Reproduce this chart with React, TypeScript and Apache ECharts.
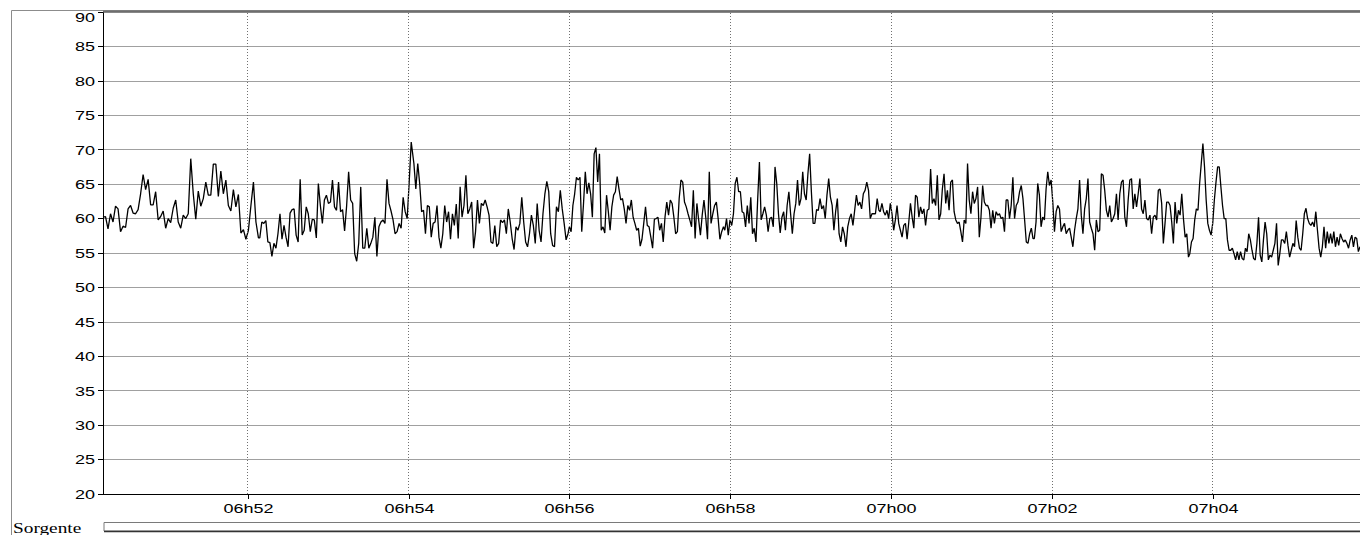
import React, { useEffect, useRef } from 'react';
import * as echarts from 'echarts';

// ---- data: noise level samples, one array per stretch of the recording ----
const SEG1 = [60.2, 60.3, 58.5, 60.7, 59.5, 61.8, 61.4, 58.1, 58.9, 58.7, 61.4, 61.9, 60.8, 60.7, 61.3, 63.6, 66.4, 64.2, 65.7, 62, 62, 63.9, 59.8, 60.3, 61.1, 58.6, 60, 59.4, 61.5, 62.7, 59.5, 58.6, 60.5, 60, 60.7, 68.7, 63.6, 59.9, 64, 61.8, 62.9, 65.3, 63.4, 63.4, 67.9, 67.9, 63.2, 66.9, 63.6, 65.6, 61.9, 61.1, 64.2, 61.7, 63.5, 57.9, 58.4, 57, 58.3, 61.9, 65.3, 59.5, 57.2];
const SEG2 = [57.2, 59.5, 59.3, 59.7, 56.6, 56.5, 54.5, 56.4, 55.7, 57.8, 60.7, 57, 59, 57.3, 55.9, 60.8, 61.3, 61.4, 57.6, 56.6, 65.7, 57.6, 58.3, 61.7, 60.7, 58.1, 59.9, 59.8, 57.2, 65.1, 61.9, 59.3, 62.7, 63.4, 62.2, 62.4, 65.6, 61.7, 61.2, 65.3, 61, 61.3, 58.2, 61.8, 66.8, 62.7, 62.2, 54.9, 53.8, 56.4, 64.6, 55.7, 55.7, 58.6, 55.7, 56.4, 57.3, 60.2, 54.5, 58.8, 59.5, 59.8, 59.3, 65.7, 62.2, 61.1, 59.8, 57.8, 58.1, 59.3, 58.6, 63.1, 61, 60, 65.3, 71.1];
const SEG3 = [68, 64.3, 68, 65.1, 61, 61.2, 57.8, 61.9, 61.7, 57.3, 59.3, 59.5, 61.9, 57.3, 55.7, 57.8, 61.9, 59.5, 61, 57, 60.7, 59, 62.1, 57.1, 64.6, 60.2, 61.9, 66.3, 60.7, 61.4, 62.4, 55.7, 58.1, 62.7, 59.3, 62.2, 61.9, 62.7, 61.7, 60.5, 56.6, 56.4, 59, 55.9, 56.4, 59.8, 59.4, 59.8, 57.8, 61.4, 59.5, 57.1, 55.5, 58.8, 58.3, 59.3, 63.1, 59.5, 56.6, 55.9, 57.8, 60.5, 59, 56.4, 62.2, 58.3, 56.6, 60.7, 63.6, 65.4, 63.9, 57.8, 56.1, 55.9, 61.7, 61, 64.1, 61.4, 59.3, 56.9, 57.8];
const SEG4 = [58.8, 58.1, 61.9, 63.6, 66, 65.6, 66, 58.1, 62.2, 66.8, 63.6, 65.2, 63.6, 60.2, 69.4, 70.3, 65.3, 69.4, 58.3, 58.8, 57.9, 63.4, 61, 58.3, 61.7, 63.4, 63.9, 66.1, 64.3, 62.7, 62.9, 61.4, 59.3, 61.9, 61.2, 62.7, 60.2, 59.3, 58.3, 58.6, 56, 57, 59.3, 61.7, 59, 58.8, 57.3, 55.7, 59.9, 60, 60.2, 58.3, 59.3, 56.6, 60.2, 62.4, 60.5, 62.7, 62.2, 60.2, 57.8, 58.1, 62.9, 65.6, 65.3, 62.4, 61.7, 60.7, 59.8, 58.8, 64.1, 57.1, 62.2, 59.8, 57.6, 60.5, 62.7, 60.2, 57, 66.8, 59.3, 60.7, 61.9, 62.4, 60, 57, 58.1, 58.8];
const SEG5 = [58.3, 60, 57.6, 59.8, 59, 60.7, 65.1, 66, 63.9, 63.9, 61, 60.8, 58.8, 61.9, 59.3, 63.1, 57.8, 58.6, 56.6, 62.9, 68.2, 59.8, 60.7, 61.7, 60.5, 58.1, 60, 60.2, 58.8, 67.5, 65.1, 60.7, 57.9, 60.2, 61, 58.3, 61.9, 63.9, 60.7, 57.8, 60.7, 62.2, 65.6, 61.9, 62.9, 66.8, 63.6, 62.7, 66.5, 69.4, 63.9, 59.3, 59.3, 61.3, 61.2, 62.9, 61.4, 61.9, 60, 63.4, 65.8, 63.1, 61.9, 58.3, 61, 62.9, 57.8, 56.6, 58.8, 57.8, 55.9, 58.8, 60, 60.7, 59, 61.2, 63.4, 61.9, 62.4, 61.4, 63.6, 64.1, 65.3, 64.1, 60, 60.7, 60.7, 60.7, 62.9, 61.2];
const SEG6 = [61, 62.2, 61, 60.5, 61.2, 60, 62.2, 60.7, 58.3, 59.8, 61.9, 59.3, 58.3, 57.3, 59, 59.3, 57, 59.5, 62.2, 60.2, 58.6, 63.4, 63.1, 60.2, 61.7, 60.7, 61.4, 59, 61.2, 61.4, 67.2, 62.2, 62.9, 61.9, 66.3, 59.8, 60.7, 64.3, 66.5, 62.2, 64.1, 61.2, 65.3, 65.6, 61, 59.8, 59.3, 59.5, 58.1, 56.6, 59.8, 59.3, 68, 62.7, 60.7, 63.9, 62.2, 62.9, 64.6, 57.3, 60.2, 64.8, 62.4, 61.9, 61.9, 61.2, 58.6, 61.2, 59.3, 61, 60.5, 60.7, 60, 60.2, 58.1, 62.7, 62.7, 60, 61.9, 66, 60, 61.9, 62.4, 63.9, 64.8, 62.9, 59.8, 56.6, 56.4, 57.8, 58.6, 57.1];
const SEG7 = [57.1, 59.5, 65.1, 63.4, 58.8, 60.2, 59.8, 64.3, 66.8, 64.8, 65.6, 62.4, 58.1, 61, 61.9, 61.4, 58.1, 58.8, 59.3, 57.8, 58.3, 58.6, 57.3, 55.9, 58.3, 60, 61.4, 65.6, 60.5, 57.8, 61.4, 62.9, 65.8, 59.5, 58.6, 57.8, 55.4, 59.8, 58.1, 58.3, 66.5, 66.3, 64.1, 61.2, 60.2, 61.9, 59.5, 60, 60.7, 63.6, 59.8, 63.6, 65.3, 65.6, 60.2, 58.8, 62.7, 65.6, 65.8, 61.4, 63.6, 61.7, 63.6, 65.8, 61.4, 60.7, 62.7, 60, 59.8, 60.5, 57.8, 60.2, 60.5, 59.8, 64.1, 64.3, 62.2, 56.4, 59.3, 62.4, 62.4, 61.9, 59.5, 56.4, 62.4, 59.3, 61.2, 60.5, 63.6, 60, 57.3, 57.8, 54.4];
const SEG8 = [54.9, 56.6, 57.1, 59.8, 61.4, 61.2, 65.1, 68, 70.9, 67.5, 62.7, 59.3, 58.3, 57.6, 59.3, 62.7, 65.3, 67.5, 67.5, 64.6, 61.9, 60, 60, 56.9, 55.4, 55.4, 55.7, 54.9, 54, 55.2, 54, 55.2, 54.2, 54, 55.7, 55.2, 57.8, 56.9, 55.4, 54.2, 54, 56.4, 60.2, 54.7, 53.7, 56.9, 59.5, 57.8, 54, 54.7, 54.4, 55.4, 56.4, 59.3, 53.2, 54.9, 56.9, 56.9, 56.4, 58.1, 56.1, 54.4, 55.4, 56.4, 55.9, 59.7, 57.3, 55.7, 55.4, 57.8, 60.7, 61.5, 60, 59.3, 59, 59.5, 58.8, 61, 58.3, 55.7, 54.4, 55.9, 58.8, 55.7, 58.1, 56.4, 57.8, 56.4, 58.1, 55.9, 57.3, 56.1, 57.8, 57.1, 56.6, 56.9, 56.4, 55.7, 56.9, 57.6, 55.9, 57.3, 57.1, 55.2, 55.9];

const SEGMENTS = [SEG1, SEG2, SEG3, SEG4, SEG5, SEG6, SEG7, SEG8];
// start / end clock time of each stretch
const SEG_START = ['06:50:12', '06:52:09', '06:54:04', '06:56:00', '06:57:56', '06:59:52', '07:01:47', '07:03:43'];
const SEG_END = ['06:52:08', '06:54:02', '06:55:59', '06:57:55', '06:59:51', '07:01:46', '07:03:42', '07:05:50'];

const AXIS_START = '06:50:12';
const AXIS_END = '07:05:50';
const X_TICKS = ['06:52', '06:54', '06:56', '06:58', '07:00', '07:02', '07:04'];
const X_TICK_LABELS = ['06h52', '06h54', '06h56', '06h58', '07h00', '07h02', '07h04'];
const Y_TICKS = [20, 25, 30, 35, 40, 45, 50, 55, 60, 65, 70, 75, 80, 85, 90];
const Y_MIN = 20;
const Y_MAX = 90;
const Y_STEP = 5;
const SOURCE_LABEL = 'Sorgente';

function toMs(hms: string): number {
  const p = hms.split(':').map(Number);
  return Date.UTC(2000, 0, 1, p[0], p[1], p[2] || 0);
}

function buildData(): [number, number][] {
  const out: [number, number][] = [];
  SEGMENTS.forEach((seg, i) => {
    const t0 = toMs(SEG_START[i]);
    const t1 = toMs(SEG_END[i]);
    const step = seg.length > 1 ? (t1 - t0) / (seg.length - 1) : 0;
    seg.forEach((v, j) => out.push([t0 + j * step, v]));
  });
  return out;
}

const AXIS_FONT = '12px "Liberation Sans", Arial, sans-serif';
const STRETCH = 1.5;

export default function App() {
  const ref = useRef<HTMLDivElement>(null);

  useEffect(() => {
    const el = ref.current!;
    const chart = echarts.init(el, null, { renderer: 'svg' });
    const data = buildData();
    chart.setOption({
      animation: false,
      backgroundColor: '#ffffff',
      grid: { left: 103, top: 12, right: 0, bottom: 41, containLabel: false },
      xAxis: {
        type: 'value',
        min: toMs(AXIS_START),
        max: toMs(AXIS_END),
        axisLine: { show: true, onZero: false, lineStyle: { color: '#000', width: 1 } },
        axisTick: { show: false },
        axisLabel: { show: false },
        splitLine: { show: false },
      },
      yAxis: {
        type: 'value',
        min: Y_MIN,
        max: Y_MAX,
        interval: Y_STEP,
        axisLine: { show: true, lineStyle: { color: '#000', width: 1 } },
        axisTick: { show: true, length: 5, inside: false, lineStyle: { color: '#000' } },
        axisLabel: { show: false },
        splitLine: { show: true, lineStyle: { color: '#a0a0a0', width: 1 } },
      },
      series: [
        {
          type: 'line',
          data: [],
          silent: true,
          z: 1,
          markLine: {
            silent: true,
            symbol: 'none',
            animation: false,
            label: { show: false },
            lineStyle: { color: '#707070', type: [1, 2], width: 1 },
            data: X_TICKS.map((t) => ({ xAxis: toMs(t) })),
          },
        },
        {
          type: 'line',
          data,
          symbol: 'none',
          showSymbol: false,
          z: 3,
          lineStyle: { color: '#000', width: 1.3 },
        },
      ],
    });

    const graphics: any[] = [];
    const yTop = chart.convertToPixel({ yAxisIndex: 0 }, Y_MAX) as number;
    const yBottom = chart.convertToPixel({ yAxisIndex: 0 }, Y_MIN) as number;
    const xLeft = chart.convertToPixel({ xAxisIndex: 0 }, toMs(AXIS_START)) as number;

    // outer frame
    graphics.push({
      type: 'rect',
      shape: { x: 11.5, y: 10.5, width: 1400, height: 600 },
      style: { fill: 'none', stroke: '#8c8c8c', lineWidth: 1 },
      silent: true,
      z: 0,
    });
    graphics.push({
      type: 'line',
      shape: { x1: xLeft, y1: yTop - 0.5, x2: 1360, y2: yTop - 0.5 },
      style: { stroke: '#6e6e6e', lineWidth: 2 },
      silent: true,
      z: 10,
    });

    Y_TICKS.forEach((v) => {
      const py = chart.convertToPixel({ yAxisIndex: 0 }, v) as number;
      const ly = Math.max(py + 0.5, yTop + 6);
      graphics.push({
        type: 'text',
        x: xLeft - 8,
        y: ly,
        scaleX: STRETCH,
        silent: true,
        style: { text: String(v), font: AXIS_FONT, fill: '#000', align: 'right', verticalAlign: 'middle' },
      });
    });

    X_TICKS.forEach((t, i) => {
      const px = Math.round(chart.convertToPixel({ xAxisIndex: 0 }, toMs(t)) as number) + 0.5;
      graphics.push({
        type: 'line',
        shape: { x1: px, y1: yBottom, x2: px, y2: yBottom + 5 },
        style: { stroke: '#000', lineWidth: 1 },
        silent: true,
      });
      graphics.push({
        type: 'text',
        x: px,
        y: yBottom + 15,
        scaleX: STRETCH,
        silent: true,
        style: { text: X_TICK_LABELS[i], font: AXIS_FONT, fill: '#000', align: 'center', verticalAlign: 'middle' },
      });
    });

    // source strip
    graphics.push({
      type: 'text',
      x: 13,
      y: 528.5,
      scaleX: 1.38,
      silent: true,
      style: { text: SOURCE_LABEL, font: '14px "Liberation Serif", "Times New Roman", serif', fill: '#000', align: 'left', verticalAlign: 'middle' },
    });
    graphics.push({
      type: 'rect',
      shape: { x: xLeft + 1, y: 522.5, width: 1400, height: 8.5 },
      style: { fill: '#fff', stroke: '#7a7a7a', lineWidth: 1 },
      silent: true,
    });
    graphics.push({
      type: 'line',
      shape: { x1: xLeft + 1, y1: 531.5, x2: 1360, y2: 531.5 },
      style: { stroke: '#333', lineWidth: 1.5 },
      silent: true,
    });

    chart.setOption({ graphic: graphics });
    return () => chart.dispose();
  }, []);

  return <div ref={ref} style={{ position: 'absolute', left: 0, top: 0, width: 1360, height: 535 }} />;
}
